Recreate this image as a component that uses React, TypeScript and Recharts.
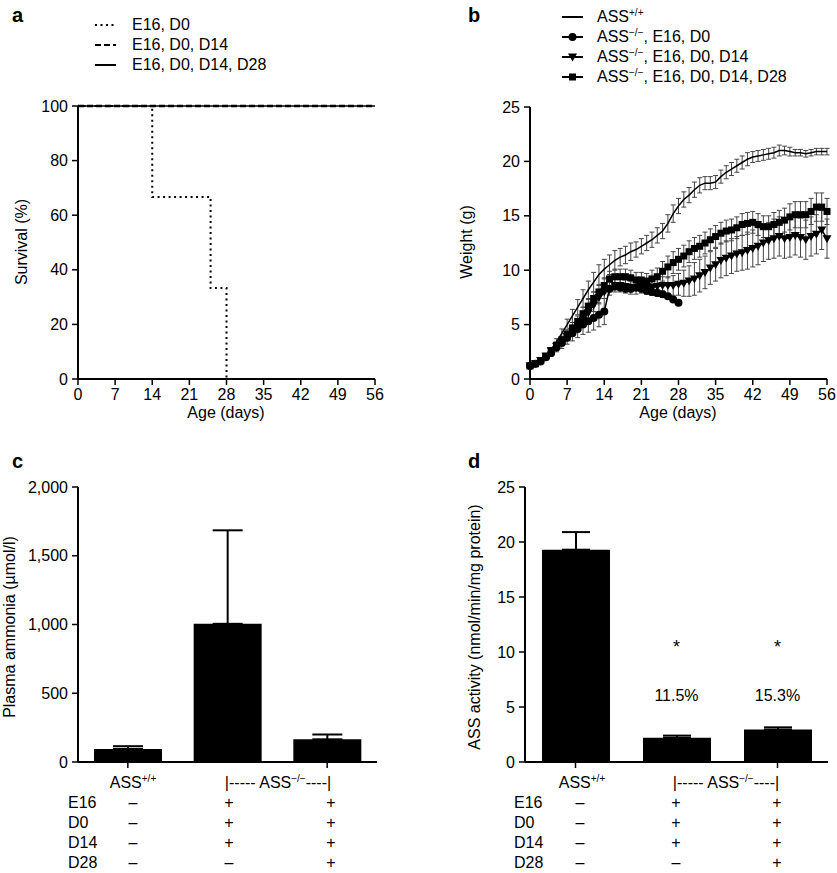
import React from "react";
import {
  LineChart,
  Line,
  XAxis,
  YAxis,
  ErrorBar,
  BarChart,
  Bar,
  ReferenceDot,
} from "recharts";

const FONT = '"Liberation Sans", Arial, Helvetica, sans-serif';

// ---- panel a: survival ----
const ageTicks = [0, 7, 14, 21, 28, 35, 42, 49, 56];
const survivalTicks = [0, 20, 40, 60, 80, 100];
const survD0Days = [0, 14, 25, 28];
const survD0 = [100, 66.7, 33.3, 0];
const survFullDays = [0, 56];
const survD14 = [100, 100];
const survD28 = [100, 100];

// ---- panel b: weight (g), one value per day from day 0 ----
const weightTicks = [0, 5, 10, 15, 20, 25];
const wildType = [
  1.2, 1.4, 1.7, 2.1, 2.7, 3.4, 4.2, 5.0, 5.8, 6.6,
  7.4, 8.2, 8.9, 9.6, 10.1, 10.5, 10.9, 11.2, 11.4, 11.7,
  11.9, 12.2, 12.5, 12.8, 13.2, 13.6, 14.3, 15.2, 15.9, 16.5,
  16.9, 17.4, 17.8, 18.0, 18.0, 18.1, 18.6, 19.0, 19.3, 19.6,
  19.9, 20.2, 20.4, 20.5, 20.6, 20.7, 20.8, 21.0, 21.0, 20.9,
  20.8, 20.8, 20.7, 20.8, 20.9, 20.9, 20.9,
];
const wildTypeErr = [
  0.1, 0.1, 0.1, 0.2, 0.2, 0.3, 0.4, 0.5, 0.6, 0.7,
  0.8, 0.8, 0.9, 0.9, 0.9, 0.9, 0.9, 0.8, 0.8, 0.8,
  0.7, 0.7, 0.7, 0.7, 0.7, 0.7, 0.8, 0.8, 0.7, 0.7,
  0.7, 0.7, 0.7, 0.6, 0.6, 0.6, 0.6, 0.6, 0.6, 0.6,
  0.6, 0.6, 0.5, 0.5, 0.5, 0.5, 0.5, 0.5, 0.4, 0.4,
  0.3, 0.3, 0.3, 0.3, 0.3, 0.3, 0.3,
];
const koD0 = [
  1.2, 1.4, 1.6, 2.0, 2.4, 2.9, 3.3, 3.8, 4.2, 4.6,
  5.0, 5.3, 5.6, 5.9, 6.2, 8.3, 8.5, 8.4, 8.3, 8.3,
  8.4, 8.3, 8.1, 8.0, 7.9, 7.8, 7.6, 7.3, 7.0,
];
const koD0Err = [
  0.1, 0.1, 0.2, 0.2, 0.3, 0.4, 0.5, 0.6, 0.7, 0.8,
  0.9, 1.0, 1.1, 1.1, 1.2, 0.3, 0.3, 0.3, 0.3, 0.3,
  0.3, 0.3, 0.3, 0.3, 0.3, 0.3, 0.2, 0.2, 0.1,
];
const koD14 = [
  1.2, 1.4, 1.7, 2.1, 2.6, 3.0, 3.4, 3.9, 4.4, 4.9,
  5.4, 6.1, 6.8, 7.5, 8.0, 8.3, 8.6, 8.6, 8.5, 8.4,
  8.4, 8.5, 8.5, 8.4, 8.5, 8.6, 8.6, 8.6, 8.7, 8.8,
  9.0, 9.2, 9.5, 9.8, 10.2, 10.5, 10.9, 11.1, 11.3, 11.5,
  11.6, 11.8, 12.0, 12.2, 12.5, 12.7, 12.9, 13.1, 12.9, 13.0,
  13.2, 13.0, 12.8, 13.1, 13.3, 13.7, 12.9,
];
const koD14Err = [
  0.1, 0.1, 0.1, 0.2, 0.2, 0.3, 0.3, 0.4, 0.4, 0.5,
  0.5, 0.6, 0.6, 0.6, 0.6, 0.6, 0.6, 0.6, 0.6, 0.6,
  0.6, 0.6, 0.7, 0.7, 0.7, 0.8, 0.8, 0.9, 1.0, 1.2,
  1.4, 1.5, 1.5, 1.5, 1.5, 1.5, 1.6, 1.6, 1.6, 1.6,
  1.6, 1.7, 1.7, 1.7, 1.7, 1.7, 1.8, 1.8, 1.8, 1.8,
  1.8, 1.8, 1.8, 1.8, 1.8, 1.8, 1.8,
];
const koD28 = [
  1.2, 1.4, 1.7, 2.1, 2.6, 3.1, 3.6, 4.1, 4.7, 5.3,
  6.0, 6.7, 7.4, 8.0, 8.6, 9.2, 9.4, 9.4, 9.4, 9.3,
  9.1, 9.1, 9.0, 9.2, 9.4, 9.9, 10.3, 10.7, 11.0, 11.3,
  11.7, 12.0, 12.2, 12.5, 12.8, 13.1, 13.4, 13.6, 13.7, 13.9,
  14.2, 14.3, 14.4, 14.2, 14.0, 14.0, 14.2, 14.4, 14.6, 14.9,
  15.1, 15.1, 15.1, 15.4, 15.8, 15.8, 15.4,
];
const koD28Err = [
  0.1, 0.1, 0.1, 0.2, 0.2, 0.3, 0.3, 0.4, 0.5, 0.5,
  0.6, 0.6, 0.6, 0.6, 0.7, 0.7, 0.7, 0.7, 0.7, 0.7,
  0.7, 0.7, 0.7, 0.8, 0.8, 0.9, 1.0, 1.0, 1.0, 1.0,
  1.0, 1.0, 1.0, 1.0, 1.0, 1.0, 1.0, 1.0, 1.0, 1.0,
  1.0, 1.0, 1.0, 1.0, 1.0, 1.0, 1.1, 1.1, 1.1, 1.2,
  1.2, 1.2, 1.2, 1.2, 1.3, 1.3, 1.2,
];

// ---- panels c and d: bars ----
const groups = ["ASS+/+", "E16 D0 D14", "E16 D0 D14 D28"];
const ammonia = [95, 1005, 165];
const ammoniaSem = [20, 680, 35];
const ammoniaTicks = [0, 500, 1000, 1500, 2000];
const activity = [19.3, 2.2, 2.95];
const activitySem = [1.6, 0.2, 0.2];
const activityTicks = [0, 5, 10, 15, 20, 25];
const percentOfWt = ["", "11.5%", "15.3%"];
const treatmentRows = [
  ["E16", "–", "+", "+"],
  ["D0", "–", "+", "+"],
  ["D14", "–", "+", "+"],
  ["D28", "–", "–", "+"],
];

const weightData = wildType.map((v, i) => ({
  day: i,
  wt: v,
  wtErr: wildTypeErr[i],
  d0: i < koD0.length ? koD0[i] : null,
  d0Err: i < koD0.length ? koD0Err[i] : null,
  d14: koD14[i],
  d14Err: koD14Err[i],
  d28: koD28[i],
  d28Err: koD28Err[i],
}));
const survD0Data = survD0Days.map((d, i) => ({ day: d, v: survD0[i] }));
const survD14Data = survFullDays.map((d, i) => ({ day: d, v: survD14[i] }));
const survD28Data = survFullDays.map((d, i) => ({ day: d, v: survD28[i] }));
const ammoniaData = groups.map((g, i) => ({ group: g, v: ammonia[i], err: [0, ammoniaSem[i]] }));
const activityData = groups.map((g, i) => ({ group: g, v: activity[i], err: [0, activitySem[i]] }));

const axisProps = {
  stroke: "#000",
  axisLine: { stroke: "#000", strokeWidth: 2 },
  tickLine: { stroke: "#000", strokeWidth: 1.5 },
  tickSize: 6,
  tickMargin: 4,
  tick: { fill: "#000", fontSize: 16, fontFamily: FONT },
};

function Txt({ x, y, children, anchor = "middle", size = 16, bold = false, rotate = false }: any) {
  const tx = anchor === "middle" ? "-50%" : anchor === "end" ? "-100%" : "0";
  return (
    <div
      style={{
        position: "absolute",
        left: x,
        top: y,
        transform: `translate(${tx}, -50%)${rotate ? " rotate(-90deg)" : ""}`,
        fontSize: size,
        fontWeight: bold ? "bold" : "normal",
        lineHeight: 1,
        whiteSpace: "nowrap",
      }}
    >
      {children}
    </div>
  );
}

const Sup = ({ children }: any) => (
  <span style={{ fontSize: 10, position: "relative", top: -6 }}>{children}</span>
);

const circleDot = (p: any) =>
  p.value == null || p.cy == null ? (
    <g key={`c${p.index}`} />
  ) : (
    <circle key={`c${p.index}`} cx={p.cx} cy={p.cy} r={4} fill="#000" />
  );
const triangleDot = (p: any) => (
  <polygon
    key={`t${p.index}`}
    points={`${p.cx - 4.5},${p.cy - 3.5} ${p.cx + 4.5},${p.cy - 3.5} ${p.cx},${p.cy + 4.5}`}
    fill="#000"
  />
);
const squareDot = (p: any) => (
  <rect key={`s${p.index}`} x={p.cx - 3.5} y={p.cy - 3.5} width={7} height={7} fill="#000" />
);

function LegendLine({ x, y, dash, marker }: any) {
  return (
    <svg style={{ position: "absolute", left: x, top: y - 6 }} width={22} height={12}>
      <line x1={0} y1={6} x2={21} y2={6} stroke="#000" strokeWidth={2} strokeDasharray={dash} />
      {marker === "circle" && <circle cx={10.5} cy={6} r={4} fill="#000" />}
      {marker === "triangle" && <polygon points="6,2.5 15,2.5 10.5,10.5" fill="#000" />}
      {marker === "square" && <rect x={7} y={2.5} width={7} height={7} fill="#000" />}
    </svg>
  );
}

function TreatmentTable({ left, cols, wtX, koX }: any) {
  return (
    <>
      <Txt x={wtX} y={783}>
        ASS<Sup>+/+</Sup>
      </Txt>
      <Txt x={koX} y={783}>
        |----- ASS<Sup>−/−</Sup>----|
      </Txt>
      {treatmentRows.map((row, r) => (
        <React.Fragment key={r}>
          <Txt x={left} y={803 + r * 20} anchor="start">
            {row[0]}
          </Txt>
          {row.slice(1).map((s, c) => (
            <Txt key={c} x={cols[c]} y={803 + r * 20}>
              {s}
            </Txt>
          ))}
        </React.Fragment>
      ))}
    </>
  );
}

export default function App() {
  return (
    <div
      style={{
        position: "absolute",
        left: 0,
        top: 0,
        width: 837,
        height: 873,
        background: "#fff",
        fontFamily: FONT,
        color: "#000",
        overflow: "hidden",
      }}
    >
      {/* a */}
      <div style={{ position: "absolute", left: 0, top: 0 }}>
        <LineChart width={420} height={440} margin={{ top: 106, right: 45, bottom: 31, left: 0 }}>
          <XAxis type="number" dataKey="day" domain={[0, 56]} ticks={ageTicks} height={30} {...axisProps} />
          <YAxis type="number" domain={[0, 100]} ticks={survivalTicks} width={78} {...axisProps} />
          <Line data={survD0Data} dataKey="v" type="stepAfter" stroke="#000" strokeWidth={2} strokeDasharray="2 3.5" dot={false} isAnimationActive={false} />
          <Line data={survD28Data} dataKey="v" type="stepAfter" stroke="#000" strokeWidth={1.5} dot={false} isAnimationActive={false} />
          <Line data={survD14Data} dataKey="v" type="stepAfter" stroke="#000" strokeWidth={2.5} strokeDasharray="6 3" dot={false} isAnimationActive={false} />
        </LineChart>
      </div>
      <Txt x={12} y={15} anchor="start" size={20} bold>a</Txt>
      <LegendLine x={95} y={25} dash="2 3.5" />
      <LegendLine x={95} y={45} dash="6 3" />
      <LegendLine x={95} y={65} />
      <Txt x={132} y={25} anchor="start">E16, D0</Txt>
      <Txt x={132} y={45} anchor="start">E16, D0, D14</Txt>
      <Txt x={132} y={65} anchor="start">E16, D0, D14, D28</Txt>
      <Txt x={22} y={242} rotate>Survival (%)</Txt>
      <Txt x={226} y={413}>Age (days)</Txt>

      {/* b */}
      <div style={{ position: "absolute", left: 420, top: 0 }}>
        <LineChart width={417} height={440} data={weightData} margin={{ top: 107, right: 10, bottom: 31, left: 0 }}>
          <XAxis type="number" dataKey="day" domain={[0, 56]} ticks={ageTicks} height={30} {...axisProps} />
          <YAxis type="number" domain={[0, 25]} ticks={weightTicks} width={110} {...axisProps} />
          <Line dataKey="d14" stroke="#000" strokeWidth={1.5} dot={triangleDot} isAnimationActive={false}>
            <ErrorBar dataKey="d14Err" width={2.5} stroke="#444" strokeWidth={1} direction="y" />
          </Line>
          <Line dataKey="d28" stroke="#000" strokeWidth={1.5} dot={squareDot} isAnimationActive={false}>
            <ErrorBar dataKey="d28Err" width={2.5} stroke="#444" strokeWidth={1} direction="y" />
          </Line>
          <Line dataKey="d0" stroke="#000" strokeWidth={1.5} dot={circleDot} isAnimationActive={false}>
            <ErrorBar dataKey="d0Err" width={2.5} stroke="#444" strokeWidth={1} direction="y" />
          </Line>
          <Line dataKey="wt" stroke="#000" strokeWidth={1.5} dot={false} isAnimationActive={false}>
            <ErrorBar dataKey="wtErr" width={2.5} stroke="#444" strokeWidth={1} direction="y" />
          </Line>
        </LineChart>
      </div>
      <Txt x={468} y={15} anchor="start" size={20} bold>b</Txt>
      <LegendLine x={562} y={17} />
      <LegendLine x={562} y={37} marker="circle" />
      <LegendLine x={562} y={57} marker="triangle" />
      <LegendLine x={562} y={77} marker="square" />
      <Txt x={597} y={17} anchor="start">ASS<Sup>+/+</Sup></Txt>
      <Txt x={597} y={37} anchor="start">ASS<Sup>−/−</Sup>, E16, D0</Txt>
      <Txt x={597} y={57} anchor="start">ASS<Sup>−/−</Sup>, E16, D0, D14</Txt>
      <Txt x={597} y={77} anchor="start">ASS<Sup>−/−</Sup>, E16, D0, D14, D28</Txt>
      <Txt x={467} y={242} rotate>Weight (g)</Txt>
      <Txt x={678} y={413}>Age (days)</Txt>

      {/* c */}
      <div style={{ position: "absolute", left: 0, top: 440 }}>
        <BarChart width={420} height={433} data={ammoniaData} barSize={68} margin={{ top: 47, right: 43, bottom: 81, left: 0 }}>
          <XAxis dataKey="group" height={30} {...axisProps} tick={() => <g />} />
          <YAxis type="number" domain={[0, 2000]} ticks={ammoniaTicks} width={78} tickFormatter={(v) => v.toLocaleString("en-US")} {...axisProps} />
          <Bar dataKey="v" fill="#000" isAnimationActive={false}>
            <ErrorBar dataKey="err" width={15} stroke="#000" strokeWidth={2} direction="y" />
          </Bar>
        </BarChart>
      </div>
      <Txt x={12} y={461} anchor="start" size={20} bold>c</Txt>
      <Txt x={10} y={627} rotate>Plasma ammonia (µmol/l)</Txt>
      <TreatmentTable left={68} cols={[133, 229, 331]} wtX={133} koX={278} />

      {/* d */}
      <div style={{ position: "absolute", left: 420, top: 440 }}>
        <BarChart width={417} height={433} data={activityData} barSize={68} margin={{ top: 47, right: 9, bottom: 81, left: 0 }}>
          <XAxis dataKey="group" height={30} {...axisProps} tick={() => <g />} />
          <YAxis type="number" domain={[0, 25]} ticks={activityTicks} width={105} {...axisProps} />
          <Bar dataKey="v" fill="#000" isAnimationActive={false}>
            <ErrorBar dataKey="err" width={14} stroke="#000" strokeWidth={2} direction="y" />
          </Bar>
          {groups.map((g, i) =>
            percentOfWt[i] ? (
              <ReferenceDot key={`s${i}`} x={g} y={10.5} r={0} fill="none" stroke="none" label={{ value: "*", position: "center", fill: "#000", fontSize: 18, fontFamily: FONT }} />
            ) : null
          )}
          {groups.map((g, i) =>
            percentOfWt[i] ? (
              <ReferenceDot key={`p${i}`} x={g} y={6.1} r={0} fill="none" stroke="none" label={{ value: percentOfWt[i], position: "center", fill: "#000", fontSize: 16, fontFamily: FONT }} />
            ) : null
          )}
        </BarChart>
      </div>
      <Txt x={468} y={461} anchor="start" size={20} bold>d</Txt>
      <Txt x={475} y={627} rotate>ASS activity (nmol/min/mg protein)</Txt>
      <TreatmentTable left={514} cols={[580, 676, 777]} wtX={582} koX={726} />
    </div>
  );
}
